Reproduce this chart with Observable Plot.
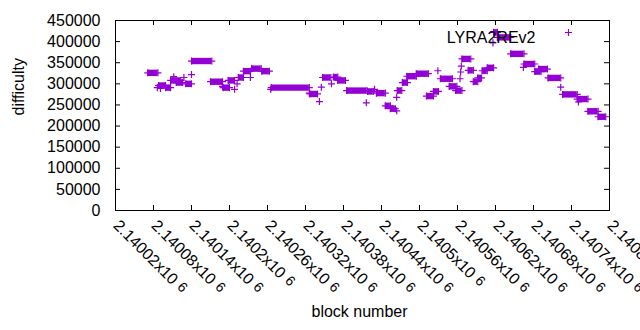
<!DOCTYPE html>
<html><head><meta charset="utf-8">
<script src="https://cdn.jsdelivr.net/npm/d3@7"></script>
<script src="https://cdn.jsdelivr.net/npm/@observablehq/plot@0.6"></script>
<style>body{margin:0;background:#fff} svg{display:block}</style>
</head><body><div id="chart"></div>
<script>
// Runs of blocks sharing the same difficulty (single points have start == end)
const runStart = [2140071,2140086,2140088,2140091,2140099,2140107,2140112,2140116,2140128,2140131,2140140,2140140,2140170,2140189,2140190,2140198,2140208,2140212,2140214,2140222,2140233,2140235,2140251,2140265,2140266,2140326,2140327,2140342,2140345,2140347,2140361,2140364,2140371,2140385,2140416,2140418,2140429,2140432,2140446,2140454,2140464,2140464,2140465,2140473,2140480,2140495,2140511,2140522,2140529,2140533,2140547,2140557,2140564,2140565,2140566,2140567,2140577,2140585,2140592,2140599,2140607,2140616,2140617,2140623,2140644,2140664,2140665,2140682,2140688,2140703,2140723,2140726,2140749,2140751,2140766,2140782];
const runEnd = [2140087,2140086,2140099,2140091,2140107,2140123,2140112,2140126,2140128,2140140,2140140,2140172,2140189,2140189,2140200,2140208,2140208,2140212,2140222,2140233,2140233,2140250,2140263,2140265,2140326,2140326,2140339,2140342,2140345,2140360,2140361,2140371,2140383,2140417,2140416,2140427,2140429,2140446,2140454,2140462,2140464,2140464,2140472,2140481,2140495,2140514,2140522,2140530,2140529,2140552,2140559,2140567,2140564,2140565,2140566,2140581,2140585,2140592,2140598,2140607,2140617,2140616,2140623,2140644,2140665,2140664,2140682,2140692,2140702,2140723,2140723,2140749,2140766,2140751,2140782,2140794];
const runDifficulty = [326000,291000,296000,289000,291000,308000,317000,303000,315000,300000,322000,354000,305000,294000,291000,308000,287000,300000,315000,330000,315000,336000,330000,287000,291000,278000,276000,258000,292000,315000,300000,316000,308000,284000,255000,282000,287000,278000,248000,241000,236000,268000,284000,303000,318000,324000,271000,282000,331000,312000,294000,284000,312000,328000,342000,359000,332000,305000,314000,331000,338000,397000,422000,410000,371000,339000,347000,329000,335000,314000,292000,275000,264000,257000,235000,222000];

const xTicks = [2140020,2140080,2140140,2140200,2140260,2140320,2140380,2140440,2140500,2140560,2140620,2140680,2140740,2140800];
const yTicks = [0,50000,100000,150000,200000,250000,300000,350000,400000,450000];
const seriesName = "LYRA2REv2";
const xTitle = "block number";
const yTitle = "difficulty";

const W = 640, H = 330, mL = 115, mR = 31, mT = 20, mB = 120;
const fw = W - mL - mR, fh = H - mT - mB;
const purple = "#9400d3";
const font = "'Liberation Sans', Arial, sans-serif";

const runs = runStart.map((s, i) => ({start: s, end: runEnd[i], value: runDifficulty[i]}));
const pts = runs.flatMap(r => r.start === r.end
  ? [{b: r.start, v: r.value}]
  : [{b: r.start, v: r.value}, {b: r.end, v: r.value}]);

const tickBase = d => String(+(d / 1e6).toFixed(5)) + "x10";

const chart = Plot.plot({
  width: W, height: H,
  marginLeft: mL, marginRight: mR, marginTop: mT, marginBottom: mB,
  style: {fontFamily: font, fontSize: "16px", color: "#000", background: "#fff", overflow: "visible"},
  x: {domain: [2140020, 2140800], axis: null},
  y: {domain: [0, 450000]},
  marks: [
    Plot.ruleY(runs, {x1: "start", x2: "end", y: "value", stroke: purple, strokeWidth: 6.4}),
    Plot.dot(pts, {x: "b", y: "v", symbol: "plus", r: 2.4, stroke: purple, strokeWidth: 1.2}),
    Plot.tickX(xTicks, {x: d => d, insetTop: fh - 5, stroke: "#000"}),
    Plot.tickX(xTicks, {x: d => d, insetBottom: fh - 5, stroke: "#000"}),
    Plot.tickY(yTicks, {y: d => d, insetRight: fw - 5, stroke: "#000"}),
    Plot.tickY(yTicks, {y: d => d, insetLeft: fw - 5, stroke: "#000"}),
    Plot.axisY({ticks: yTicks, tickSize: 0, tickPadding: 15, tickFormat: d3.format("d"), label: null, fontSize: 16}),
    Plot.text(xTicks, {x: d => d, frameAnchor: "bottom", dy: 16, dx: -3, rotate: 45, textAnchor: "start",
      text: tickBase, fontSize: 16, fill: "#000"}),
    Plot.text([yTitle], {frameAnchor: "left", dx: -97, rotate: -90, text: d => d, fontSize: 16, fill: "#000"}),
    Plot.text([xTitle], {frameAnchor: "bottom", dx: -3, dy: 106, text: d => d, fontSize: 16, fill: "#000"}),
    Plot.text([seriesName], {frameAnchor: "top-right", dx: -74, dy: 11, textAnchor: "end", text: d => d, fontSize: 16, fill: "#000"}),
    Plot.dot([seriesName], {frameAnchor: "top-right", dx: -41, dy: 12, symbol: "plus", r: 2.4, stroke: purple, strokeWidth: 1.2}),
    Plot.frame({stroke: "#000"})
  ]
});

// superscript exponent on x tick labels
chart.querySelectorAll("text").forEach(t => {
  if (t.children.length === 0 && /x10$/.test(t.textContent)) {
    const sup = document.createElementNS("http://www.w3.org/2000/svg", "tspan");
    sup.setAttribute("dx", "5");
    sup.setAttribute("dy", "-2");
    sup.setAttribute("font-size", "14");
    sup.textContent = "6";
    t.appendChild(sup);
  }
});

document.getElementById("chart").appendChild(chart);
</script>
</body></html>
